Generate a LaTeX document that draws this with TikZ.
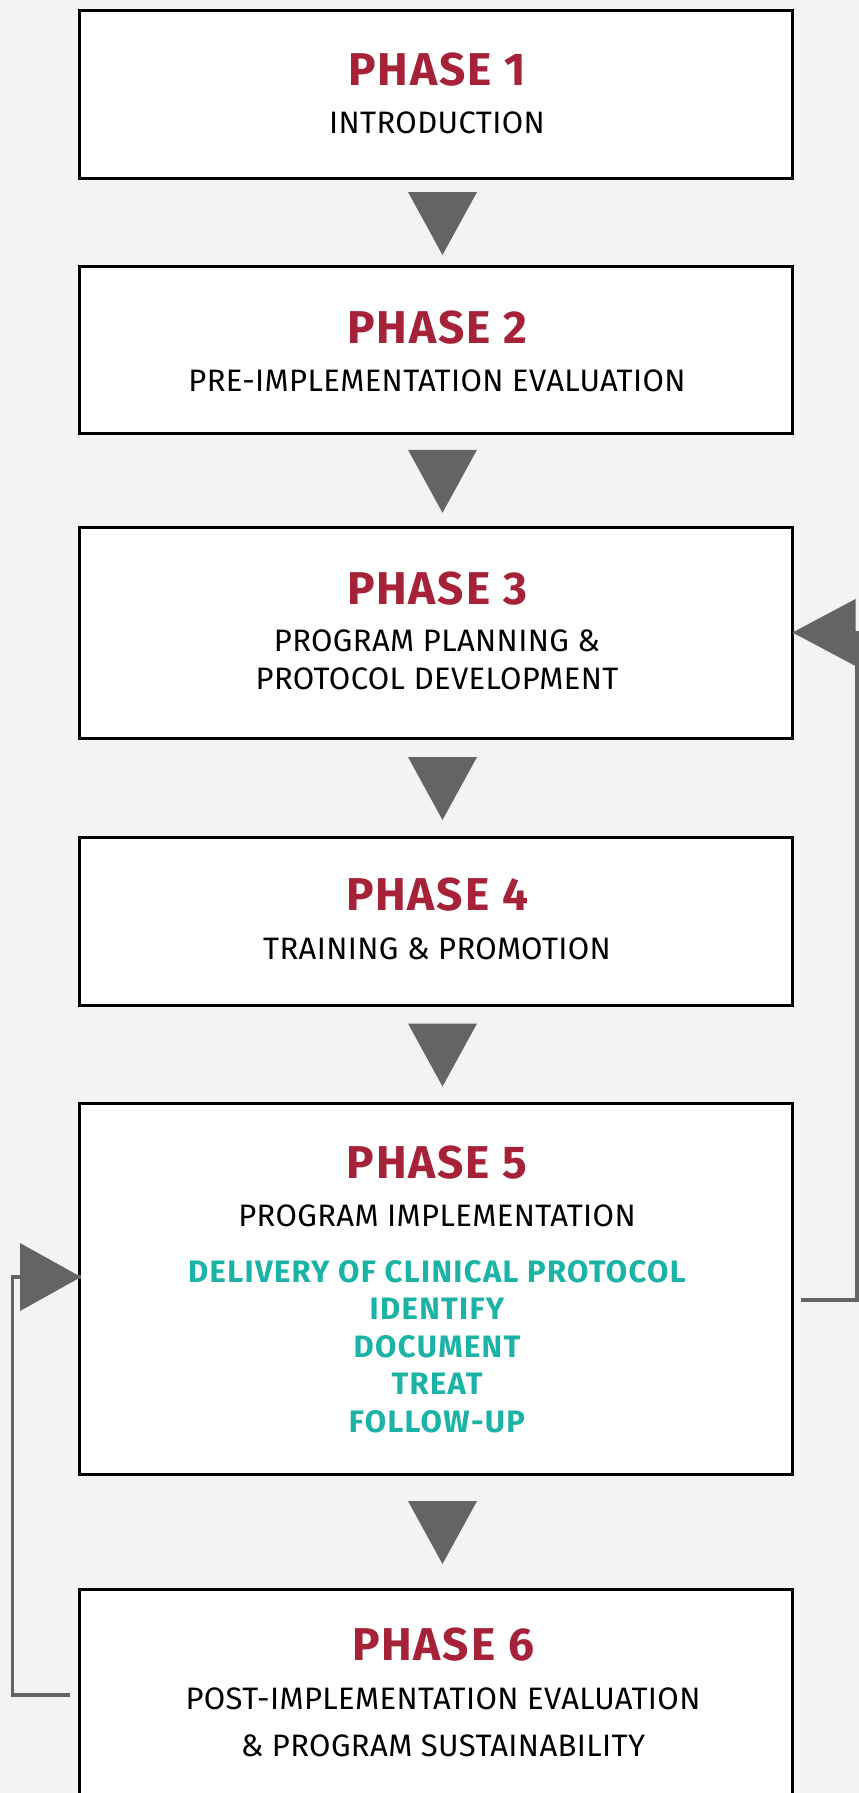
\documentclass[tikz,border=0pt]{standalone}
\usepackage{fontspec}
\setmainfont{Fira Sans}
\usetikzlibrary{calc}
\definecolor{bg}{HTML}{F2F3F2}
\definecolor{phred}{HTML}{A52238}
\definecolor{tealtxt}{HTML}{1AB3A6}
\definecolor{arrgray}{HTML}{636466}
\begin{document}
\begin{tikzpicture}[x=1pt,y=-1pt,
 phasebox/.style={draw=black,line width=3pt,fill=white,minimum width=713pt,inner sep=0pt,outer sep=0pt},
 title/.style={anchor=base,text=phred,font=\fontsize{46}{46}\selectfont\bfseries\addfontfeature{LetterSpace=4},inner sep=0pt},
 sub/.style={anchor=base,text=black,font=\fontsize{31}{31}\selectfont\addfontfeature{LetterSpace=1.2},inner sep=0pt},
 stepitem/.style={anchor=base,text=tealtxt,font=\fontsize{31}{31}\selectfont\bfseries\addfontfeature{LetterSpace=4.3},inner sep=0pt},
 tri/.style={fill=arrgray},
 loopline/.style={draw=arrgray,line width=3.5pt}
]
\fill[bg] (0,0) rectangle (859,1793);
\useasboundingbox (0,0) rectangle (859,1793);
\clip (0,0) rectangle (859,1793);

% boxes
\node[phasebox,minimum height=168pt] (p1) at (436,94.5) {};
\node[phasebox,minimum height=167pt] (p2) at (436,350) {};
\node[phasebox,minimum height=211pt] (p3) at (436,632.5) {};
\node[phasebox,minimum height=168pt] (p4) at (436,921) {};
\node[phasebox,minimum height=371pt] (p5) at (436,1288.5) {};
\node[phasebox,minimum height=311pt] (p6) at (436,1744.5) {};

% texts
\node[title] (t1) at (437,85) {PHASE 1};
\node[sub] (s1) at (437,133.3) {INTRODUCTION};
\node[title] (t2) at (437,343) {PHASE 2};
\node[sub] (s2) at (437,391) {PRE-IMPLEMENTATION EVALUATION};
\node[title] (t3) at (437,604) {PHASE 3};
\node[sub] (s3a) at (437,651.5) {PROGRAM PLANNING \&};
\node[sub] (s3b) at (437,689) {PROTOCOL DEVELOPMENT};
\node[title] (t4) at (437,910.5) {PHASE 4};
\node[sub] (s4) at (437,959) {TRAINING \& PROMOTION};
\node[title] (t5) at (437,1178) {PHASE 5};
\node[sub] (s5) at (437,1226) {PROGRAM IMPLEMENTATION};
\node[stepitem] (e1) at (437,1282) {DELIVERY OF CLINICAL PROTOCOL};
\node[stepitem] (e2) at (437,1319.5) {IDENTIFY};
\node[stepitem] (e3) at (437,1357) {DOCUMENT};
\node[stepitem] (e4) at (437,1394.5) {TREAT};
\node[stepitem] (e5) at (437,1432) {FOLLOW-UP};
\node[title] (t6) at (443,1660) {PHASE 6};
\node[sub] (s6a) at (443,1709) {POST-IMPLEMENTATION EVALUATION};
\node[sub] (s6b) at (443,1756.5) {\& PROGRAM SUSTAINABILITY};

% down arrows between phases
\foreach \a/\b in {p1/p2,p2/p3,p3/p4,p4/p5,p5/p6}{
  \coordinate (c) at ($(\a.south)!0.5!(\b.north)+(6.5,1)$);
  \fill[tri] ($(c)+(-34.5,-31.5)$) -- ($(c)+(34.5,-31.5)$) -- ($(c)+(0,31.5)$) -- cycle;
}

% right loop: phase 5 back to phase 3
\coordinate (r1) at ($(p5.east)+(8,11.5)$);
\coordinate (r2) at ($(p3.east)+(64.5,0)$);
\draw[loopline] (r1) -| (r2) -- (p3.east);
\fill[tri] (p3.east) -- ++(63,-33.5) -- ++(0,67) -- cycle;

% left loop: phase 6 back to phase 5
\coordinate (l1) at ($(p6.north west)+(-9.5,106)$);
\coordinate (l2) at ($(p5.west)+(1.5,-11.5)$);
\coordinate (l3) at (12.5,1695);
\draw[loopline] (l1) -- (l3) |- (l2);
\fill[tri] (l2) -- ++(-61,-34) -- ++(0,68) -- cycle;
\end{tikzpicture}
\end{document}
